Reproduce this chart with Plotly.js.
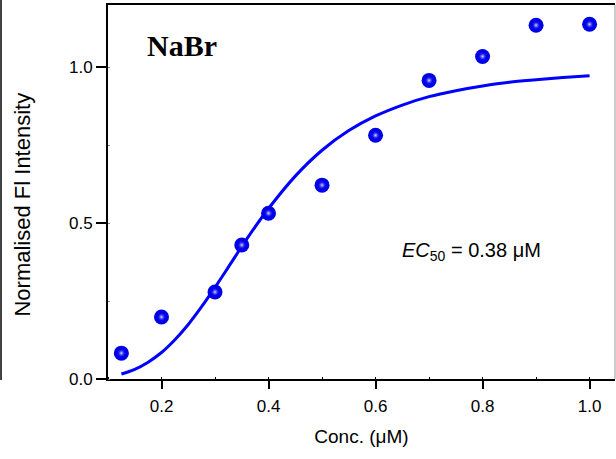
<!DOCTYPE html>
<html>
<head>
<meta charset="utf-8">
<script src="https://cdn.plot.ly/plotly-3.0.1.min.js"></script>
<style>html,body{margin:0;padding:0;background:#fff;}#chart{width:616px;height:459px;}</style>
</head>
<body>
<div id="chart"></div>
<script>
// Measured data points
const concX = [0.125, 0.2, 0.3, 0.35, 0.4, 0.5, 0.6, 0.7, 0.8, 0.9, 1.0];
const intensityY = [0.083, 0.199, 0.279, 0.43, 0.532, 0.622, 0.782, 0.958, 1.035, 1.135, 1.138];
// Fitted curve
const fitX = [0.125, 0.15, 0.175, 0.2, 0.225, 0.25, 0.275, 0.3, 0.325, 0.35, 0.375, 0.4, 0.45, 0.5, 0.55, 0.6, 0.65, 0.7, 0.75, 0.8, 0.85, 0.9, 0.95, 1.0];
const fitY = [0.016, 0.031, 0.054, 0.085, 0.126, 0.175, 0.232, 0.294, 0.359, 0.425, 0.488, 0.547, 0.651, 0.734, 0.797, 0.844, 0.879, 0.906, 0.925, 0.940, 0.952, 0.960, 0.967, 0.973];
const xTicks = [0.2, 0.4, 0.6, 0.8, 1.0];
const xTickText = ['0.2', '0.4', '0.6', '0.8', '1.0'];
const yTicks = [0, 0.5, 1.0];
const yTickText = ['0.0', '0.5', '1.0'];

const traces = [
  {
    x: fitX, y: fitY, mode: 'lines', type: 'scatter',
    line: {color: '#0000ff', width: 3, shape: 'spline'},
    hoverinfo: 'skip', showlegend: false
  },
  {
    x: concX, y: intensityY, mode: 'markers', type: 'scatter',
    marker: {size: 15, color: '#0000e6', line: {width: 0}},
    showlegend: false
  },
  {
    x: concX, y: intensityY, mode: 'markers', type: 'scatter',
    marker: {size: 9, color: 'rgba(0,0,255,0)', line: {width: 0},
             gradient: {type: 'radial', color: 'rgba(235,235,255,0.95)'}},
    showlegend: false, hoverinfo: 'skip'
  }
];

const layout = {
  width: 616, height: 459,
  margin: {l: 108, r: 1, t: 5, b: 80},
  paper_bgcolor: '#ffffff', plot_bgcolor: '#ffffff',
  font: {family: 'Liberation Sans, Arial, sans-serif', color: '#000', size: 17},
  xaxis: {
    range: [0.1, 1.0475], tickvals: xTicks, ticktext: xTickText,
    ticks: 'outside', ticklen: 8, tickwidth: 2, tickcolor: '#000',
    showline: true, linecolor: '#000', linewidth: 2, mirror: true,
    showgrid: false, zeroline: false,
    minor: {dtick: 0.1, tick0: 0, ticks: 'inside', ticklen: 2, tickwidth: 1, tickcolor: '#000'},
    tickfont: {size: 17}, ticklabelstandoff: 3,
    title: {text: 'Conc. (μM)', font: {size: 19}, standoff: 14}
  },
  yaxis: {
    range: [0, 1.2], tickvals: yTicks, ticktext: yTickText,
    ticks: 'outside', ticklen: 10, tickwidth: 2, tickcolor: '#000',
    showline: true, linecolor: '#000', linewidth: 2, mirror: false,
    showgrid: false, zeroline: false,
    minor: {dtick: 0.25, tick0: 0, ticks: 'inside', ticklen: 2, tickwidth: 1, tickcolor: '#888'},
    tickfont: {size: 17}
  },
  shapes: [
    {type: 'line', xref: 'paper', yref: 'paper', x0: 1, x1: 1, y0: 0, y1: 1,
     line: {color: '#999', width: 1}},
    {type: 'line', xref: 'paper', yref: 'paper', x0: -0.211, x1: -0.211, y0: -0.003, y1: 1.02,
     line: {color: '#000', width: 1.5}}
  ],
  annotations: [
    {text: 'Normalised Fl Intensity', xref: 'paper', yref: 'paper', x: -0.168, y: 0.466,
     textangle: -90, xanchor: 'center', yanchor: 'middle', showarrow: false,
     font: {family: 'Liberation Sans, Arial, sans-serif', size: 22, color: '#000'}},
    {text: '<b>NaBr</b>', xref: 'paper', yref: 'paper', x: 0.145, y: 0.893,
     xanchor: 'center', yanchor: 'middle', showarrow: false,
     font: {family: 'Liberation Serif, Times New Roman, serif', size: 30, color: '#000'}},
    {text: '<i>EC</i><sub>50</sub> = 0.38 μM', xref: 'paper', yref: 'paper', x: 0.575, y: 0.34,
     xanchor: 'left', yanchor: 'middle', showarrow: false,
     font: {family: 'Liberation Sans, Arial, sans-serif', size: 20, color: '#000'}}
  ]
};

Plotly.newPlot('chart', traces, layout, {displayModeBar: false, staticPlot: true});
</script>
</body>
</html>
